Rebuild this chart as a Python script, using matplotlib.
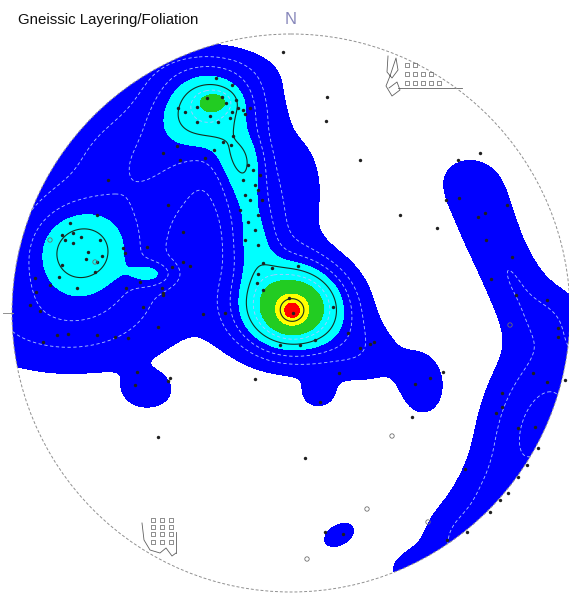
import numpy as np
import matplotlib.pyplot as plt
from matplotlib.patches import Circle

# stereonet frame (pixel-like units of the original figure)
cx, cy, rad = 291, 313, 279

# density "hot spots": centre, peak, spread, tilt
blob_x = [293, 292, 240, 245, 254, 210, 215, 80, 152,
          120, 215, 150, 300, 55, 148, 318, 422, 365,
          468, 482, 497, 515, 545, 560, 545, 530, 500, 460, 420, 339]
blob_y = [308, 311, 155, 182, 238, 110, 101, 250, 274,
          200, 70, 160, 190, 318, 392, 395, 385, 355,
          178, 215, 250, 282, 315, 370, 415, 455, 500, 540, 570, 535]
blob_amp = [9.5, 4.5, 1.8, 2.7, 3.1, 5.2, 2.0, 3.9, 2.0,
            2.0, 1.0, 1.2, 1.2, 2.0, 1.5, 1.3, 1.6, 1.4,
            1.15, 1.15, 1.15, 1.2, 1.5, 1.7, 1.9, 1.8, 1.8, 1.8, 1.6, 1.6]
blob_sx = [37, 10, 18, 19, 19, 36, 13, 37, 16,
           90, 50, 40, 22, 75, 18, 14, 18, 30,
           30, 26, 23, 22, 30, 45, 42, 38, 35, 30, 25, 16]
blob_sy = [31, 10, 18, 26, 30, 28, 8, 31, 9,
           95, 18, 35, 45, 38, 13, 12, 26, 25,
           24, 26, 26, 24, 25, 35, 32, 30, 28, 25, 15, 10]
blob_ang = [0, 0, 0, 0, 0, 0, 0, 0, 0,
            0, 0, 0, 0, 0, 0, 0, 0, 0,
            0, 0, 0, 0, 0, 0, 0, 0, 0, 0, 0, -30]

# contour levels
fill_levels = [1, 4, 7, 10, 13, 100]
fill_colors = ['#0000ff', '#00ffff', '#22cc22', '#ffff00', '#ff0000']
light_levels = [2, 3, 6]
dark_levels = [5, 11.5]

# poles (filled dots)
pole_x = [283, 216, 232, 207, 222, 226, 236, 238, 243, 232, 245, 250, 178, 185, 197,
          210, 197, 218, 230, 233, 223, 231, 214, 177, 163, 180, 205,
          248, 253, 260, 243, 255, 258, 245, 250, 262, 240, 258, 248, 255, 245, 258,
          263, 272, 258, 257, 263, 298, 289, 293, 333, 315, 300, 280,
          97, 70, 62, 73, 81, 65, 73, 100, 88, 86, 97, 102, 62, 95, 59, 35, 50, 77, 36,
          123, 125, 147, 168, 183, 183, 190, 172, 140, 126, 162, 163, 143, 30, 40, 108,
          57, 68, 43, 97, 115, 128, 137, 135, 170, 168, 158, 203, 225, 163, 320,
          360, 370, 374, 339, 415, 430, 443, 412, 348,
          558, 533, 547, 502, 502, 496, 518, 535, 538, 527, 518, 508, 500, 490, 467, 447, 565,
          480, 458, 446, 459, 478, 485, 507, 486, 512, 491, 516, 547, 558,
          305, 465, 325, 343, 327, 326, 400, 437, 158, 360, 255]
pole_y = [52, 78, 85, 98, 97, 103, 100, 108, 110, 112, 114, 108, 108, 112, 107,
          116, 122, 122, 118, 136, 142, 145, 150, 146, 153, 160, 158,
          165, 170, 175, 180, 185, 190, 195, 200, 200, 210, 215, 222, 230, 240, 245,
          263, 268, 274, 283, 290, 266, 298, 313, 307, 340, 345, 345,
          215, 223, 235, 233, 237, 240, 243, 240, 252, 259, 262, 256, 265, 272, 277, 278, 285, 288, 292,
          248, 253, 247, 205, 232, 262, 266, 267, 282, 288, 288, 295, 307, 305, 311, 180,
          335, 334, 342, 335, 337, 338, 372, 385, 378, 381, 327, 314, 313, 293, 402,
          348, 344, 342, 373, 384, 378, 372, 417, 333,
          337, 373, 382, 393, 407, 413, 428, 427, 448, 465, 477, 493, 500, 512, 532, 540, 380,
          153, 160, 200, 198, 217, 213, 205, 240, 257, 279, 295, 300, 328,
          458, 469, 532, 534, 97, 121, 215, 228, 437, 160, 379]
# open circles
open_x = [392, 367, 307, 510, 428, 50, 95]
open_y = [436, 509, 559, 325, 522, 240, 262]

# odd legend glyphs left in the export
sq_x = [407, 415, 407, 415, 423, 431, 407, 415, 423, 431, 439,
        153, 162, 171, 153, 162, 171, 153, 162, 171, 153, 162, 171]
sq_y = [65, 65, 74, 74, 74, 74, 83, 83, 83, 83, 83,
        520, 520, 520, 527, 527, 527, 534, 534, 534, 542, 542, 542]
glyph_a_x = [388, 387, 392, 398, 396, 390, 386, 392, 400, 397, 389]
glyph_a_y = [56, 72, 78, 70, 58, 76, 86, 96, 90, 82, 88]
glyph_b_x = [142, 144, 150, 160, 166, 172, 176]
glyph_b_y = [523, 540, 550, 553, 548, 556, 553]

title = 'Gneissic Layering/Foliation'

fig = plt.figure(figsize=(5.69, 5.93), dpi=100)
ax = fig.add_axes([0, 0, 1, 1])
ax.set_xlim(0, 569)
ax.set_ylim(593, 0)
ax.axis('off')

gx, gy = np.meshgrid(np.linspace(0, 569, 570), np.linspace(0, 593, 594))
dens = np.zeros_like(gx)
for bx, by, a, sx, sy, t in zip(blob_x, blob_y, blob_amp, blob_sx, blob_sy, blob_ang):
    th = np.radians(t)
    u = (gx - bx) * np.cos(th) + (gy - by) * np.sin(th)
    v = -(gx - bx) * np.sin(th) + (gy - by) * np.cos(th)
    dens += a * np.exp(-0.5 * ((u / sx) ** 2 + (v / sy) ** 2))

clip = Circle((cx, cy), rad, transform=ax.transData, fc='none', ec='none')
ax.add_patch(clip)

cf = ax.contourf(gx, gy, dens, levels=fill_levels, colors=fill_colors)
cl = ax.contour(gx, gy, dens, levels=light_levels, colors='#b0c8ff',
                linewidths=0.6, linestyles=[(0, (4, 3))])
cd = ax.contour(gx, gy, dens, levels=dark_levels, colors='#143020', linewidths=0.8)
for c in (cf, cl, cd):
    c.set_clip_path(clip)

ax.scatter(pole_x, pole_y, s=6, c='#202020', zorder=5, linewidths=0)
ax.scatter(open_x, open_y, s=10, facecolors='none', edgecolors='#707070',
           linewidths=0.6, zorder=5)

# net outline
ax.add_patch(Circle((cx, cy), rad, fc='none', ec='#909090', lw=0.7,
                    ls=(0, (3, 2)), zorder=6))
ax.plot([3, 13], [cy, cy], color='#909090', lw=0.7)
ax.text(cx, 20, 'N', ha='center', va='center', fontsize=12, color='#8888bb',
        family='Liberation Sans')
ax.text(18, 20, title, ha='left', va='center', fontsize=10.8, color='#111111',
        family='Liberation Sans')

# legend glyph remnants
ax.scatter(sq_x, sq_y, s=8, marker='s', facecolors='none', edgecolors='#606060',
           linewidths=0.5, zorder=6)
ax.plot([398, 462], [88, 88], color='#606060', lw=0.6)
ax.plot([176, 176], [532, 553], color='#606060', lw=0.6)
ax.plot(glyph_a_x, glyph_a_y, color='#606060', lw=0.6)
ax.plot(glyph_b_x, glyph_b_y, color='#606060', lw=0.6)

fig.savefig('out.png', dpi=100)
